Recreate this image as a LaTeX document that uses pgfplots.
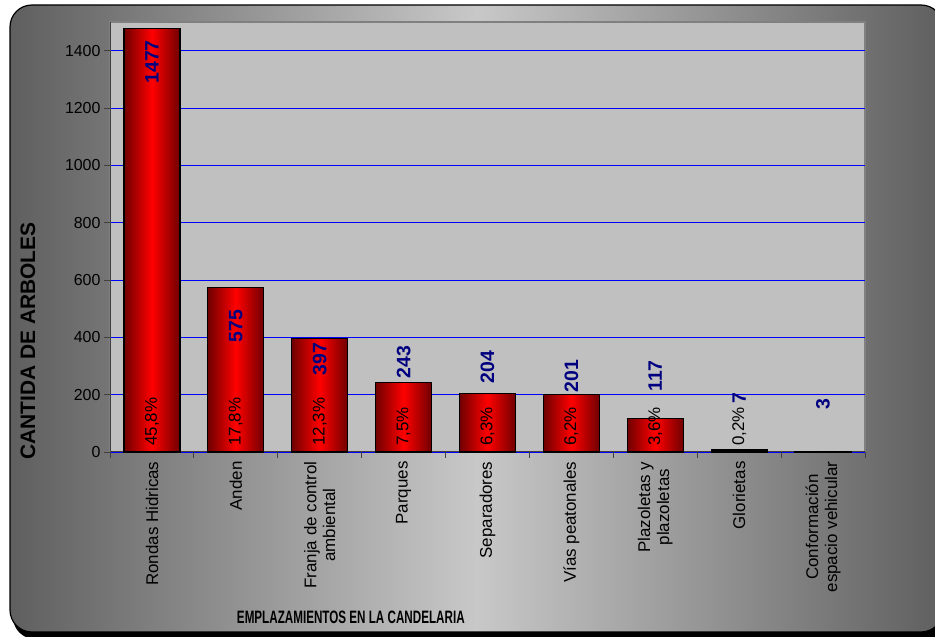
\documentclass[border=0pt]{standalone}
\usepackage{pgfplots}
\pgfplotsset{compat=1.18}
\usepackage{graphicx}
\usepackage{fontspec}
\setmainfont{Liberation Sans}
\definecolor{bgdark}{HTML}{5F5F5F}
\definecolor{bglight}{HTML}{C8C8C8}
\definecolor{plotbg}{HTML}{C0C0C0}
\definecolor{plotframe}{HTML}{808080}
\definecolor{navy}{HTML}{000080}
\definecolor{darkred}{HTML}{700000}
\definecolor{axisgray}{HTML}{404040}
\pgfplotsset{redbar/.style={ybar, bar shift=0pt, bar width=0.667, draw=black, line width=1.2, left color=darkred, right color=darkred, middle color=red}}
\begin{document}
\begin{tikzpicture}[x=1bp,y=1bp]
\useasboundingbox (0,0) rectangle (935,637);
\fill[black, rounded corners=22] (13,-2) rectangle (950,628);
\shade[draw=black, line width=1.2, rounded corners=22, left color=bgdark, right color=bgdark, middle color=bglight] (10,5) rectangle (943,632);
\begin{axis}[
  at={(110bp,185bp)}, anchor=south west,
  width=755bp, height=430bp, scale only axis,
  xmin=-0.5, xmax=8.5, ymin=0, ymax=1500,
  clip=false,
  axis background/.style={fill=plotbg, draw=plotframe, line width=2},
  axis lines*=left,
  axis line style={axisgray, line width=1},
  tick align=outside,
  major tick length=6bp,
  minor tick length=6bp,
  ytick={0,200,...,1400},
  ymajorgrids,
  grid style={blue, line width=0.8},
  y tick style={axisgray, line width=0.8},
  /pgf/number format/assume math mode=true,
  /pgf/number format/set thousands separator={},
  xtick={0,...,8},
  major x tick style={draw=none},
  minor xtick={-0.5,0.5,...,8.5},
  minor x tick style={axisgray, line width=0.8},
  xticklabels={Rondas Hidricas, Anden, {Franja de control\\ambiental}, Parques, Separadores, Vías peatonales, {Plazoletas y\\plazoletas}, Glorietas, {Conformación\\espacio vehicular}},
  xticklabel style={rotate=90, anchor=east, align=center, font=\fontsize{17}{19}\selectfont},
  yticklabel style={font=\fontsize{16}{19}\selectfont},
  ylabel={CANTIDA DE ARBOLES},
  ylabel style={at={(axis description cs:-0.1086,0.258)}, anchor=center, font=\bfseries\fontsize{21}{24}\selectfont},
  xlabel={\scalebox{0.65}[1]{EMPLAZAMIENTOS EN LA CANDELARIA}},
  xlabel style={at={(axis description cs:0.319,-0.384)}, anchor=center, font=\bfseries\fontsize{18}{20}\selectfont},
]
\addplot[redbar] coordinates {(0,1477)};
\addplot[redbar] coordinates {(1,575)};
\addplot[redbar] coordinates {(2,397)};
\addplot[redbar] coordinates {(3,243)};
\addplot[redbar] coordinates {(4,204)};
\addplot[redbar] coordinates {(5,201)};
\addplot[redbar] coordinates {(6,117)};
\addplot[redbar] coordinates {(7,7)};
\addplot[redbar] coordinates {(8,3)};
\addplot[draw=none, mark=none, nodes near coords, point meta=explicit symbolic,
  nodes near coords style={rotate=90, anchor=center, text=navy, inner sep=0pt, font=\bfseries\fontsize{19.5}{20}\selectfont}]
  coordinates {(0,1361)[1477] (1,440)[575] (2,325)[397] (3,314)[243] (4,297)[204] (5,265)[201] (6,265)[117] (7,188)[7] (8,168)[3]};
\addplot[draw=none, mark=none, nodes near coords, point meta=explicit symbolic,
  nodes near coords style={rotate=90, anchor=west, text=black, inner sep=0pt, font=\fontsize{17}{19}\selectfont}]
  coordinates {(0,21)[45,8\%] (1,21)[17,8\%] (2,21)[12,3\%] (3,21)[7,5\%] (4,21)[6,3\%] (5,21)[6,2\%] (6,21)[3,6\%] (7,21)[0,2\%]};
\end{axis}
\end{tikzpicture}
\end{document}
